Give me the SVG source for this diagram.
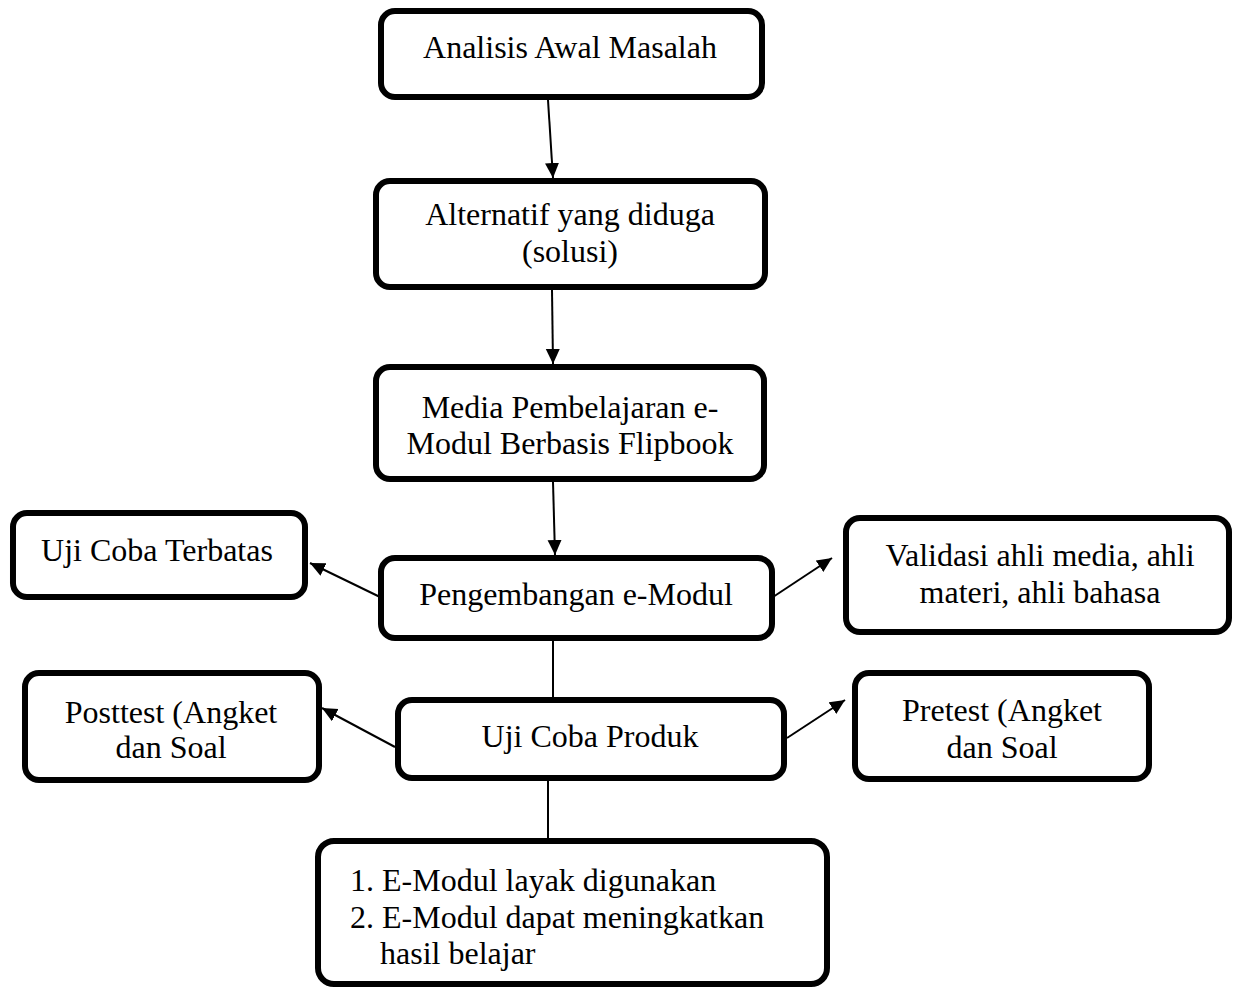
<svg xmlns="http://www.w3.org/2000/svg" width="1235" height="989" viewBox="0 0 1235 989">
<style>
.box{fill:#fff;stroke:#000;stroke-width:6}
.t{font-family:"Liberation Serif","Times New Roman",serif;font-size:32px;fill:#000}
.c{text-anchor:middle}
.ln{stroke:#000;stroke-width:2;fill:none}
</style>
<defs>
<marker id="ah" markerUnits="userSpaceOnUse" markerWidth="18" markerHeight="16" refX="15" refY="7" orient="auto">
<path d="M0,0 L15,7 L0,14 z" fill="#000"/>
</marker>
</defs>
<rect width="1235" height="989" fill="#fff"/>
<g id="connectors">
<line class="ln" x1="548" y1="100" x2="553" y2="178" marker-end="url(#ah)"/>
<line class="ln" x1="552" y1="290" x2="553" y2="364" marker-end="url(#ah)"/>
<line class="ln" x1="553" y1="482" x2="555" y2="555" marker-end="url(#ah)"/>
<line class="ln" x1="380" y1="597" x2="310" y2="563" marker-end="url(#ah)"/>
<line class="ln" x1="773" y1="597" x2="832" y2="558" marker-end="url(#ah)"/>
<line class="ln" x1="553" y1="641" x2="553" y2="697"/>
<line class="ln" x1="395" y1="747" x2="322" y2="708" marker-end="url(#ah)"/>
<line class="ln" x1="787" y1="738" x2="845" y2="700" marker-end="url(#ah)"/>
<line class="ln" x1="548" y1="781" x2="548" y2="838"/>
</g>
<g id="n1"><rect class="box" x="381" y="11" width="381" height="86" rx="14"/>
<text class="t c" x="570" y="58">Analisis Awal Masalah</text></g>
<g id="n2"><rect class="box" x="376" y="181" width="389" height="106" rx="14"/>
<text class="t c" x="570" y="225">Alternatif yang diduga</text>
<text class="t c" x="570" y="262">(solusi)</text></g>
<g id="n3"><rect class="box" x="376" y="367" width="388" height="112" rx="14"/>
<text class="t c" x="570" y="418">Media Pembelajaran e-</text>
<text class="t c" x="570" y="454">Modul Berbasis Flipbook</text></g>
<g id="n4"><rect class="box" x="381" y="558" width="391" height="80" rx="14"/>
<text class="t c" x="576" y="605">Pengembangan e-Modul</text></g>
<g id="n5"><rect class="box" x="13" y="513" width="292" height="84" rx="14"/>
<text class="t c" x="157" y="561">Uji Coba Terbatas</text></g>
<g id="n6"><rect class="box" x="846" y="518" width="383" height="114" rx="14"/>
<text class="t c" x="1040" y="566">Validasi ahli media, ahli</text>
<text class="t c" x="1040" y="603">materi, ahli bahasa</text></g>
<g id="n7"><rect class="box" x="398" y="700" width="386" height="78" rx="14"/>
<text class="t c" x="590" y="747">Uji Coba Produk</text></g>
<g id="n8"><rect class="box" x="25" y="673" width="294" height="107" rx="14"/>
<text class="t c" x="171" y="723">Posttest (Angket</text>
<text class="t c" x="171" y="758">dan Soal</text></g>
<g id="n9"><rect class="box" x="855" y="673" width="294" height="106" rx="14"/>
<text class="t c" x="1002" y="721">Pretest (Angket</text>
<text class="t c" x="1002" y="758">dan Soal</text></g>
<g id="n10"><rect class="box" x="318" y="841" width="509" height="143" rx="16"/>
<text class="t" x="350" y="891">1. E-Modul layak digunakan</text>
<text class="t" x="350" y="928">2. E-Modul dapat meningkatkan</text>
<text class="t" x="380" y="964">hasil belajar</text></g>
</svg>
